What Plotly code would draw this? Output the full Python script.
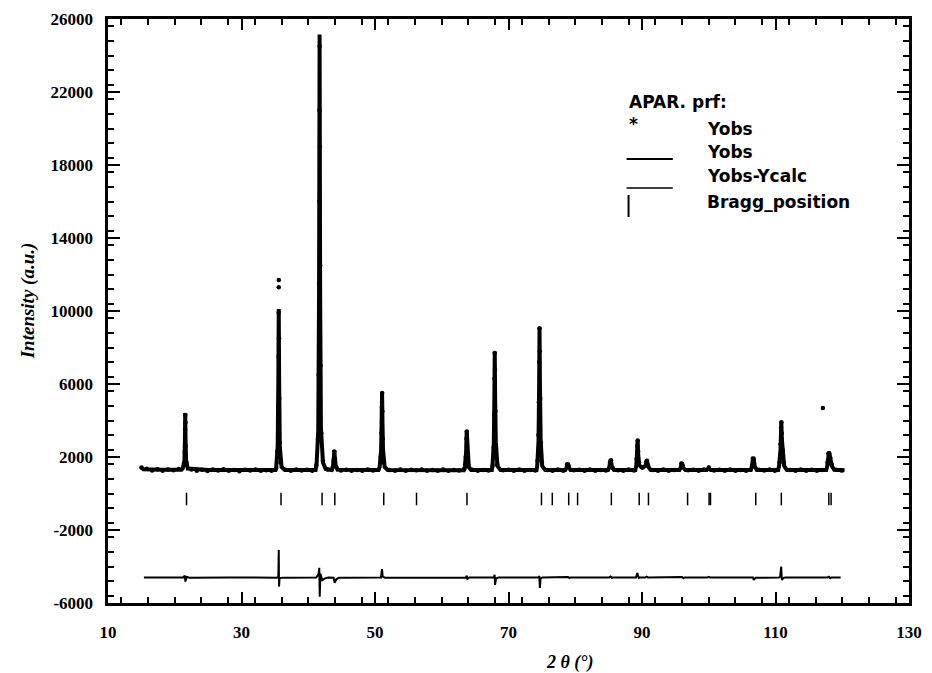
import plotly.graph_objects as go

# ---------------- data ----------------
# calculated profile (line)
calc_x = [14.94, 15.3, 18.0, 21.0,
          21.2, 21.45, 21.52, 21.57, 21.62, 21.7, 21.95,
          25.0, 30.0, 35.1,
          35.2, 35.42, 35.52, 35.58, 35.64, 35.74, 36.0,
          36.5, 41.1,
          41.25, 41.5, 41.62, 41.70, 41.78, 41.9, 42.2, 42.6,
          43.5, 43.7, 43.85, 43.91, 43.97, 44.12, 44.4,
          50.5, 50.7, 50.92, 51.0, 51.06, 51.12, 51.2, 51.45, 51.9,
          56.0, 63.3, 63.45, 63.64, 63.74, 63.84, 64.05, 64.4,
          67.5, 67.6, 67.8, 67.88, 67.94, 68.0, 68.1, 68.35, 68.8,
          74.2, 74.3, 74.5, 74.59, 74.65, 74.71, 74.82, 75.05, 75.5,
          78.5, 78.7, 78.88, 79.05, 79.3,
          84.9, 85.1, 85.31, 85.5, 85.8,
          89.0, 89.15, 89.28, 89.35, 89.42, 89.58, 90.0, 90.5, 90.72, 90.92, 91.3,
          95.6, 95.8, 95.98, 96.15, 96.5,
          99.7, 100.0, 100.3,
          106.3, 106.45, 106.68, 106.9, 107.2,
          110.4, 110.55, 110.75, 110.82, 110.87, 110.95, 111.05, 111.3, 111.7,
          117.6, 117.75, 117.9, 117.99, 118.1, 118.25, 118.45, 118.8,
          120.35]
calc_y = [1450, 1330, 1300, 1295,
          1380, 1800, 2900, 4410, 2900, 1800, 1370,
          1290, 1285, 1285,
          1450, 2600, 6200, 10108, 6200, 2600, 1450,
          1290, 1290,
          1600, 3500, 11000, 25150, 11000, 3600, 1700, 1350,
          1290, 1500, 2050, 2383, 2050, 1500, 1300,
          1285, 1450, 2400, 3900, 5561, 3900, 2400, 1450, 1290,
          1285, 1280, 1450, 2200, 3440, 2200, 1450, 1285,
          1285, 1500, 2800, 5200, 7769, 5200, 2800, 1500, 1290,
          1285, 1500, 2900, 6000, 9106, 6000, 2900, 1500, 1290,
          1285, 1420, 1671, 1420, 1285,
          1285, 1450, 1873, 1450, 1285,
          1285, 1550, 2200, 2931, 2200, 1550, 1420, 1500, 1835, 1480, 1285,
          1285, 1420, 1709, 1420, 1285,
          1285, 1400, 1285,
          1285, 1480, 2016, 1480, 1285,
          1285, 1550, 2400, 3200, 3933, 3000, 2300, 1500, 1290,
          1285, 1500, 2000, 2235, 2150, 1900, 1500, 1300,
          1280]

# observed points
obs_x = [15.0, 15.8, 16.6, 17.4, 18.2, 19.0, 19.8, 20.6,
         21.4, 21.5, 21.55, 21.58, 21.6, 21.65, 21.75,
         22.5, 23.3, 24.1, 24.9, 25.7, 26.5, 27.3, 28.1, 28.9, 29.7, 30.5, 31.3, 32.1, 32.9, 33.7, 34.5, 35.2,
         35.4, 35.5, 35.54, 35.57, 35.58, 35.59, 35.62, 35.66, 35.72, 35.85,
         36.6, 37.4, 38.2, 39.0, 39.8, 40.6, 41.2,
         41.45, 41.56, 41.62, 41.66, 41.69, 41.71, 41.74, 41.78, 41.84, 41.95, 42.2,
         42.9, 43.5, 43.8, 43.9, 44.0, 44.2,
         44.9, 45.7, 46.5, 47.3, 48.1, 48.9, 49.7, 50.5,
         50.85, 50.97, 51.03, 51.07, 51.1, 51.15, 51.3,
         52.2, 53.0, 53.8, 54.6, 55.4, 56.2, 57.0, 57.8, 58.6, 59.4, 60.2, 61.0, 61.8, 62.6, 63.4,
         63.6, 63.7, 63.75, 63.8, 63.95,
         64.6, 65.4, 66.2, 67.0, 67.6,
         67.78, 67.86, 67.91, 67.94, 67.97, 68.03, 68.12, 68.3,
         69.2, 70.0, 70.8, 71.6, 72.4, 73.2, 74.0,
         74.35, 74.48, 74.56, 74.61, 74.65, 74.69, 74.75, 74.85, 75.0,
         75.8, 76.6, 77.4, 78.2, 78.8, 79.0, 79.8, 80.6, 81.4, 82.2, 83.0, 83.8, 84.6, 85.2, 85.35, 85.6,
         86.4, 87.2, 88.0, 88.8,
         89.2, 89.3, 89.36, 89.42, 89.55, 90.1, 90.6, 90.75, 90.9,
         91.6, 92.4, 93.2, 94.0, 94.8, 95.9, 96.1, 96.9, 97.7, 98.5, 99.3, 100.0, 100.8, 101.6, 102.4,
         103.2, 104.0, 104.8, 105.6, 106.6, 106.75, 107.5, 108.3, 109.1, 109.9,
         110.6, 110.75, 110.83, 110.88, 110.93, 111.05, 111.25,
         112.2, 113.0, 113.8, 114.6, 115.4, 116.2, 117.0, 117.1, 117.8, 117.95, 118.05, 118.2, 118.4,
         119.1, 119.9]
obs_y = [1420, 1350, 1260, 1330, 1240, 1310, 1270, 1340,
         1650, 2300, 3500, 4300, 3900, 2600, 1700,
         1320, 1250, 1300, 1230, 1310, 1260, 1330, 1240, 1290, 1220, 1300, 1260, 1320, 1240, 1280, 1250, 1400,
         2300, 4800, 7500, 9900, 11300, 11700, 8500, 5200, 2800, 1700,
         1300, 1240, 1310, 1260, 1300, 1250, 1550,
         3000, 6500, 11500, 16000, 21000, 24500, 19000, 12500, 7000, 3300, 1800,
         1320, 1300, 1800, 2300, 1900, 1450,
         1260, 1300, 1240, 1290, 1250, 1320, 1260, 1300,
         2000, 3300, 4700, 5500, 4500, 3000, 1700,
         1290, 1250, 1310, 1240, 1300, 1270, 1320, 1240, 1290, 1250, 1310, 1240, 1290, 1260, 1350,
         2000, 3000, 3400, 2600, 1600,
         1300, 1240, 1290, 1260, 1500,
         2500, 4300, 6300, 7700, 6800, 4500, 2600, 1600,
         1270, 1300, 1240, 1310, 1250, 1290, 1260,
         1800, 3200, 5000, 7200, 9050, 7800, 5200, 2800, 1700,
         1290, 1250, 1310, 1240, 1600, 1500, 1270, 1300, 1240, 1310, 1250, 1290, 1260, 1700, 1820, 1400,
         1280, 1240, 1310, 1260,
         1900, 2600, 2900, 2300, 1700, 1420, 1700, 1800, 1550,
         1290, 1250, 1310, 1240, 1290, 1650, 1500, 1270, 1300, 1240, 1310, 1420, 1260, 1300, 1240,
         1310, 1250, 1290, 1240, 1900, 1850, 1300, 1260, 1310, 1240,
         1700, 2700, 3600, 3900, 3300, 2400, 1700,
         1290, 1240, 1310, 1250, 1300, 1240, 1290, 4680, 1700, 2200, 2200, 1950, 1600,
         1300, 1260]

# difference curve Yobs-Ycalc
diff_x = [15.38, 18.0, 21.3, 21.5, 21.6, 21.75, 22.2, 28.0,
          35.3, 35.52, 35.58, 35.62, 35.7, 36.2,
          41.2, 41.55, 41.65, 41.72, 41.82, 42.1, 42.5, 43.0,
          43.8, 43.95, 44.2, 44.6,
          50.9, 51.05, 51.15, 51.5, 56.0,
          63.6, 63.75, 63.85, 64.1,
          67.8, 67.92, 67.98, 68.15, 68.5,
          74.5, 74.62, 74.7, 74.8, 75.1,
          78.7, 78.9, 79.1, 79.3,
          85.1, 85.3, 85.5, 85.7,
          89.1, 89.3, 89.5, 89.7,
          90.5, 90.7, 90.9,
          95.8, 96.0, 96.2, 96.4,
          99.8, 100.0, 100.2,
          106.4, 106.6, 106.75, 107.0,
          110.5, 110.7, 110.85, 110.95, 111.2, 111.5,
          117.8, 118.0, 118.2, 118.4, 119.76]
diff_y = [-4600, -4610, -4600, -4500, -4830, -4560, -4610, -4600,
          -4610, -4550, -3100, -5100, -4650, -4610,
          -4600, -4400, -4070, -5650, -4400, -4750, -4650, -4600,
          -4620, -4900, -4700, -4610,
          -4600, -4140, -4550, -4610, -4600,
          -4600, -4500, -4680, -4600,
          -4600, -4450, -5010, -4640, -4600,
          -4600, -4520, -5180, -4650, -4600,
          -4600, -4570, -4620, -4600,
          -4600, -4550, -4620, -4600,
          -4600, -4360, -4620, -4600,
          -4600, -4560, -4600,
          -4600, -4580, -4640, -4600,
          -4600, -4570, -4600,
          -4600, -4600, -4740, -4620,
          -4600, -4560, -4010, -4740, -4620, -4600,
          -4600, -4560, -4640, -4600, -4600]

# Bragg reflection positions
bragg_x = [21.76, 35.92, 42.07, 43.98, 51.31, 56.22, 63.78, 74.94, 76.56, 79.02, 80.35,
           85.41, 89.58, 90.97, 96.83, 100.05, 100.26, 107.04, 110.87, 117.99, 118.33]
bragg_level = -300

x_ticks = [10, 30, 50, 70, 90, 110, 130]
y_ticks = [-6000, -2000, 2000, 6000, 10000, 14000, 18000, 22000, 26000]
y_tick_text = ["-6000", "-2000", "2000", "6000", "10000", "14000", "18000", "22000", "26000"]

legend_title = "APAR. prf:"
legend_labels = ["Yobs", "Yobs", "Yobs-Ycalc", "Bragg_position"]

# ---------------- figure ----------------
W, H = 932, 673
ML, MR, MT, MB = 108, 10, 19, 70
PW, PH = W - ML - MR, H - MT - MB


def px(x):
    return (x - ML) / PW


def py(y):
    return (H - MB - y) / PH


fig = go.Figure()
fig.add_trace(go.Scatter(x=calc_x, y=calc_y, mode="lines",
                         line=dict(color="black", width=4), showlegend=False))
fig.add_trace(go.Scatter(x=obs_x, y=obs_y, mode="markers",
                         marker=dict(color="black", size=4.5), showlegend=False))
fig.add_trace(go.Scatter(x=diff_x, y=diff_y, mode="lines",
                         line=dict(color="black", width=2), showlegend=False))
fig.add_trace(go.Scatter(x=bragg_x, y=[bragg_level] * len(bragg_x), mode="markers",
                         marker=dict(symbol="line-ns", size=9,
                                     line=dict(color="black", width=1.5)),
                         showlegend=False))

tickfont = dict(family="Liberation Serif", size=17, color="black", weight="bold")

fig.update_xaxes(range=[10, 130], dtick=20, tick0=10,
                 ticks="inside", ticklen=11, tickwidth=2, tickcolor="black",
                 showline=True, linewidth=3, linecolor="black", mirror="ticks",
                 showgrid=False, zeroline=False, tickfont=tickfont,
                 ticklabelstandoff=12,
                 minor=dict(ticks="inside", ticklen=6, dtick=4,
                            tickwidth=1.5, tickcolor="black"))
fig.update_yaxes(range=[-6000, 26000], tickvals=y_ticks,
                 ticktext=[t + "  " for t in y_tick_text],
                 ticks="inside", ticklen=12, tickwidth=2, tickcolor="black",
                 showline=True, linewidth=3, linecolor="black", mirror="ticks",
                 showgrid=False, zeroline=False, tickfont=tickfont,
                 minor=dict(ticks="inside", ticklen=6, dtick=800,
                            tickwidth=1.5, tickcolor="black"))

lfont = dict(family="DejaVu Sans", size=17, color="black", weight="bold")
ann = [
    dict(x=px(635), y=py(102), text=legend_title),
    dict(x=px(635), y=py(124), text="*"),
    dict(x=px(715), y=py(129), text=legend_labels[0]),
    dict(x=px(715), y=py(152), text=legend_labels[1]),
    dict(x=px(715), y=py(176), text=legend_labels[2]),
    dict(x=px(715), y=py(202), text=legend_labels[3]),
]
for a in ann:
    fig.add_annotation(xref="paper", yref="paper", xanchor="left", yanchor="middle",
                       showarrow=False, font=lfont, **a)

fig.add_shape(type="line", xref="paper", yref="paper", x0=px(635), x1=px(682),
              y0=py(159), y1=py(159), line=dict(color="black", width=2))
fig.add_shape(type="line", xref="paper", yref="paper", x0=px(635), x1=px(682),
              y0=py(188), y1=py(188), line=dict(color="black", width=1.5))
fig.add_shape(type="line", xref="paper", yref="paper", x0=px(637), x1=px(637),
              y0=py(195), y1=py(217), line=dict(color="black", width=2))

tfont = dict(family="Liberation Serif", size=19, color="black")
fig.add_annotation(xref="paper", yref="paper", x=px(27), y=py(301), textangle=-90,
                   text="<b><i>Intensity (a.u.)</i></b>", showarrow=False,
                   xanchor="center", yanchor="middle", font=tfont)
fig.add_annotation(xref="paper", yref="paper", x=px(578), y=py(662),
                   text="<b><i>2 θ (°)</i></b>", showarrow=False,
                   xanchor="center", yanchor="middle",
                   font=dict(family="Liberation Serif", size=18, color="black"))

fig.update_layout(width=W, height=H, autosize=False,
                  margin=dict(l=ML, r=MR, t=MT, b=MB, pad=0),
                  paper_bgcolor="white", plot_bgcolor="white")

fig.write_html("out.html")
